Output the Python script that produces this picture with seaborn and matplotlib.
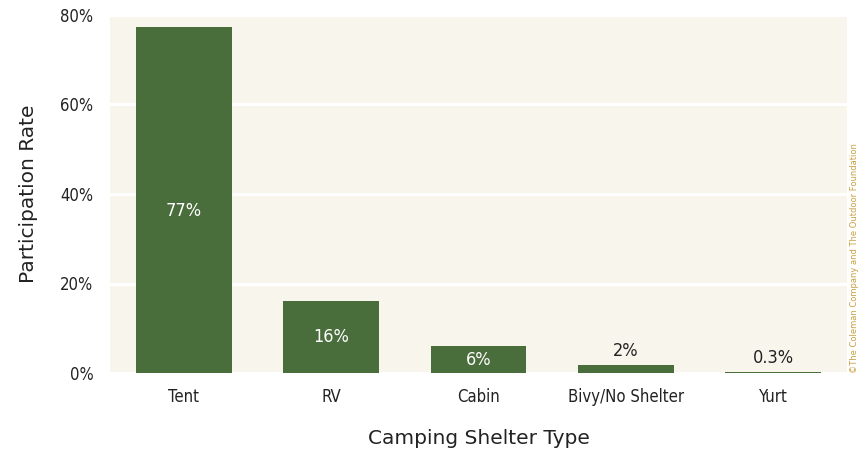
import matplotlib
matplotlib.use("Agg")
import matplotlib.pyplot as plt
import seaborn as sns
import pandas as pd

categories = ["Tent", "RV", "Cabin", "Bivy/No Shelter", "Yurt"]
values = [77.3, 16.1, 6.0, 1.8, 0.3]
labels = ["77%", "16%", "6%", "2%", "0.3%"]
yticks = [0, 20, 40, 60, 80]
ytick_labels = ["0%", "20%", "40%", "60%", "80%"]

sns.set_theme(style="white")
plt.rcParams['font.family'] = ['DejaVu Sans']

df = pd.DataFrame({"cat": categories, "val": values})

fig = plt.figure(figsize=(8.59, 4.59), dpi=100)
ax = fig.add_axes([110/859, 1 - 373/459, (847-110)/859, (373-15)/459])
bg = "#f8f5ed"
ax.set_facecolor(bg)
bar_color = "#4a6d3c"
sns.barplot(data=df, x="cat", y="val", color=bar_color, width=0.65, ax=ax,
            saturation=1, linewidth=0, edgecolor="none", zorder=3)
ax.set_ylim(0, 80)
ax.set_xlim(-0.5, 4.5)
ax.set_yticks(yticks)
ax.set_yticklabels(ytick_labels)
ax.grid(axis="y", color="white", linewidth=2.2, zorder=1)
ax.set_axisbelow(True)
for s in ax.spines.values():
    s.set_visible(False)
ax.tick_params(axis="both", length=0, labelsize=12, colors="#222222")
for t in ax.get_xticklabels() + ax.get_yticklabels():
    t.set_fontstretch("condensed")
ax.tick_params(axis="x", pad=11)
ax.tick_params(axis="y", pad=12)

for i, (v, lab) in enumerate(zip(values, labels)):
    if v > 4:
        ypos = v / 2 - 2.5 if v > 30 else v / 2
        ax.text(i, ypos, lab, ha="center", va="center", color="white",
                fontsize=13, fontstretch="condensed", zorder=4)
    else:
        ax.text(i, v + 1.0, lab, ha="center", va="bottom", color="#222222",
                fontsize=13, fontstretch="condensed", zorder=4)

ax.set_xlabel("Camping Shelter Type", fontsize=14.5, color="#222222", labelpad=16)
ax.set_ylabel("Participation Rate", fontsize=14.5, color="#222222", labelpad=16)

fig.text(850/859, 1 - 258/459, "©The Coleman Company and The Outdoor Foundation",
         rotation=90, ha="left", va="center", fontsize=6, color="#c8a040")

fig.savefig("out.png", dpi=100, facecolor="white")
